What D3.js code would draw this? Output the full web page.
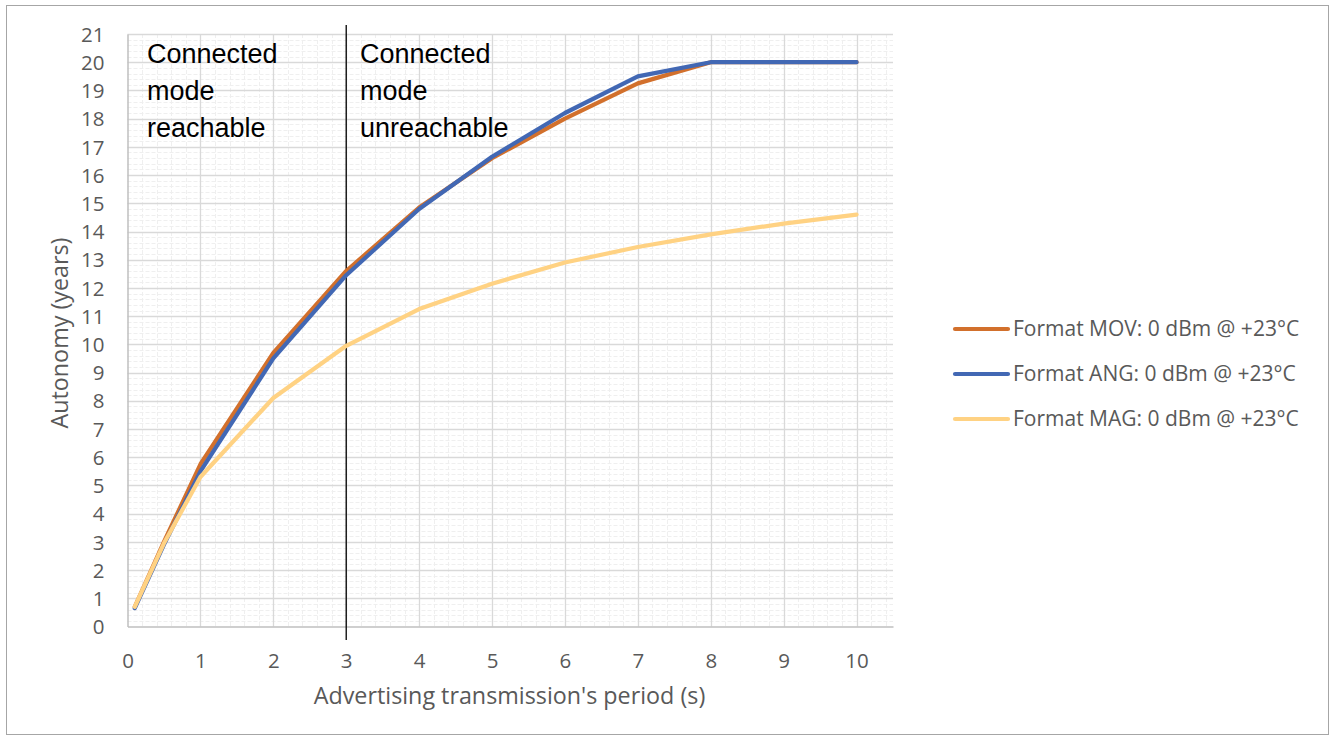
<!DOCTYPE html>
<html><head><meta charset="utf-8">
<script src="https://cdn.jsdelivr.net/npm/d3@7"></script>
<style>body{margin:0;background:#fff;} svg{display:block;}</style>
</head><body>
<svg id="c" width="1330" height="740"></svg>
<script>
const xValues = [0.1, 0.5, 1, 2, 3, 4, 5, 6, 7, 8, 9, 10];
const movValues = [0.7, 3.0, 5.75, 9.7, 12.6, 14.85, 16.6, 18.0, 19.25, 20.0, 20.0, 20.0];
const angValues = [0.65, 2.9, 5.5, 9.5, 12.45, 14.8, 16.65, 18.2, 19.5, 20.0, 20.0, 20.0];
const magValues = [0.7, 2.95, 5.3, 8.1, 9.95, 11.25, 12.15, 12.9, 13.45, 13.9, 14.28, 14.6];
const seriesNames = ["Format MOV: 0 dBm @ +23°C", "Format ANG: 0 dBm @ +23°C", "Format MAG: 0 dBm @ +23°C"];
const seriesColors = ["#D2702C", "#4268B4", "#FFD283"];
const xTicks = [0,1,2,3,4,5,6,7,8,9,10];
const yTicks = d3.range(0, 22, 1);
const regionLabels = [["Connected","mode","reachable"],["Connected","mode","unreachable"]];
const dividerX = 3;

const svg = d3.select("#c");
const font = "'Open Sans', sans-serif";
svg.append("rect").attr("x",6.5).attr("y",5.5).attr("width",1322).attr("height",729)
  .attr("fill","#fff").attr("stroke","#a6a6a6").attr("stroke-width",1);

const L=127.5, R=893, T=34, B=626.5;
const x = d3.scaleLinear().domain([0,10.5]).range([L,R]);
const y = d3.scaleLinear().domain([0,21]).range([B,T]);

const g = svg.append("g");
// minor grid
const minorX = d3.range(0, 10.5001, 0.2).map(v=>+v.toFixed(2)).filter(v=>Math.abs(v-Math.round(v))>1e-6);
const minorY = d3.range(0, 21.0001, 0.2).map(v=>+v.toFixed(2)).filter(v=>Math.abs(v-Math.round(v))>1e-6);
g.selectAll(".mx").data(minorX).join("line")
  .attr("x1",d=>Math.round(x(d))+0.5).attr("x2",d=>Math.round(x(d))+0.5).attr("y1",T).attr("y2",B)
  .attr("stroke","#efefef").attr("stroke-width",1).attr("stroke-dasharray","4,2");
g.selectAll(".my").data(minorY).join("line")
  .attr("y1",d=>Math.round(y(d))+0.5).attr("y2",d=>Math.round(y(d))+0.5).attr("x1",L).attr("x2",R)
  .attr("stroke","#efefef").attr("stroke-width",1).attr("stroke-dasharray","4,2");
// major grid
g.selectAll(".Mx").data(d3.range(1,11)).join("line")
  .attr("x1",d=>Math.round(x(d))+0.5).attr("x2",d=>Math.round(x(d))+0.5).attr("y1",T).attr("y2",B)
  .attr("stroke","#d9d9d9").attr("stroke-width",1.3);
g.selectAll(".My").data(d3.range(1,22)).join("line")
  .attr("y1",d=>Math.round(y(d))+0.5).attr("y2",d=>Math.round(y(d))+0.5).attr("x1",L).attr("x2",R)
  .attr("stroke","#d9d9d9").attr("stroke-width",1.3);

// axes
const xAxis = d3.axisBottom(x).tickValues(xTicks).tickSize(0).tickPadding(26).tickFormat(d3.format("d"));
const xa = svg.append("g").attr("transform",`translate(0,${B})`).call(xAxis);
xa.select(".domain").attr("stroke","#bfbfbf").attr("stroke-width",1.5);
xa.selectAll("text").attr("font-family",font).attr("font-size",20.5).attr("fill","#595959").attr("dy","0");
xa.selectAll("text").attr("dy","0.35em").attr("y",34);
const yAxis = d3.axisLeft(y).tickValues(yTicks).tickSize(0).tickPadding(23).tickFormat(d3.format("d"));
const ya = svg.append("g").attr("transform",`translate(${L},0)`).call(yAxis);
ya.select(".domain").attr("stroke","#bfbfbf").attr("stroke-width",1.5);
ya.selectAll("text").attr("font-family",font).attr("font-size",20.5).attr("fill","#595959").attr("dy","0.35em");

// axis titles
svg.append("text").attr("x",(314+705)/2).attr("y",704).attr("text-anchor","middle")
  .attr("font-family",font).attr("font-size",23.3).attr("fill","#595959")
  .text("Advertising transmission's period (s)");
svg.append("text").attr("transform","translate(68,333) rotate(-90)").attr("text-anchor","middle")
  .attr("font-family",font).attr("font-size",23.3).attr("fill","#595959")
  .text("Autonomy (years)");

// divider line
svg.append("line").attr("x1",x(dividerX)).attr("x2",x(dividerX)).attr("y1",25).attr("y2",640)
  .attr("stroke","#000").attr("stroke-width",1.3);

// region labels
const regionX = [147, 360];
regionLabels.forEach((lines,i)=>{
  const t = svg.append("text").attr("x",regionX[i]).attr("y",63)
    .attr("font-family","'Liberation Sans', Arial, sans-serif").attr("font-size",27).attr("fill","#000");
  lines.forEach((s,j)=>t.append("tspan").attr("x",regionX[i]).attr("dy",j?37:0).text(s));
});

// lines
const allSeries = [movValues, angValues, magValues];
const line = d3.line().x((d,i)=>x(xValues[i])).y(d=>y(d));
allSeries.forEach((vals,i)=>{
  svg.append("path").datum(vals).attr("d",line).attr("fill","none")
    .attr("stroke",seriesColors[i]).attr("stroke-width",4.2)
    .attr("stroke-linejoin","round").attr("stroke-linecap","round");
});

// legend
seriesNames.forEach((n,i)=>{
  const cy = 329 + i*45;
  svg.append("line").attr("x1",955).attr("x2",1008).attr("y1",cy).attr("y2",cy)
    .attr("stroke",seriesColors[i]).attr("stroke-width",4.2).attr("stroke-linecap","round");
  svg.append("text").attr("x",1013).attr("y",cy).attr("dy","0.35em")
    .attr("font-family",font).attr("font-size",21).attr("fill","#595959").text(n);
});
</script>
</body></html>
